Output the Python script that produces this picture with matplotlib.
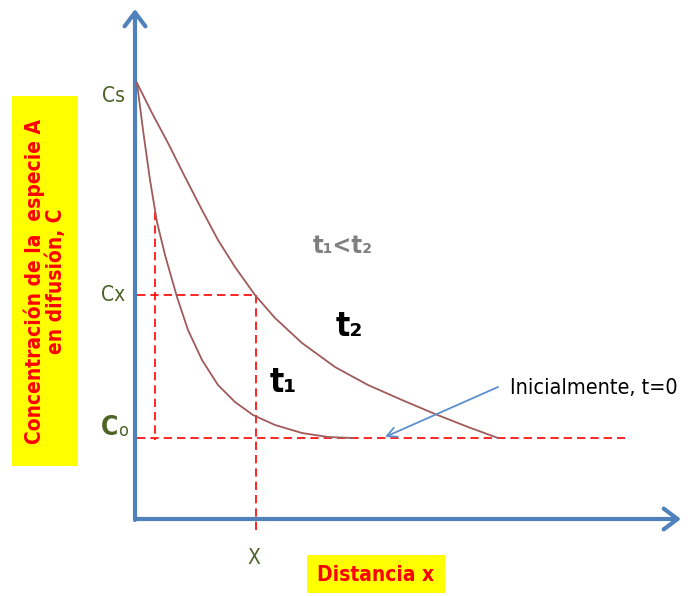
import numpy as np
import matplotlib
matplotlib.use("Agg")
import matplotlib.pyplot as plt
from matplotlib import font_manager
from matplotlib.patches import FancyArrowPatch, Rectangle

# SCHEMATIC DATA (pixel-like units, y grows downward)

t1_x = [137, 143, 150, 157, 165, 177, 188, 202, 218, 235, 253, 275, 302, 328, 352]
t1_y = [83, 130, 180, 222, 255, 297, 330, 360, 385, 402, 415, 425, 433, 437, 438]

t2_x = [137, 152, 168, 185, 202, 218, 235, 255, 275, 302, 335, 368, 402, 435, 468, 498]
t2_y = [83, 113, 143, 177, 210, 240, 267, 295, 318, 343, 367, 385, 400, 414, 427, 438]

C_s = 83
C_x = 295
C_o = 438
x_pos = 256
x_t1_cross = 155
y_t1_cross = 212
x_end = 625

# look for a condensed / narrow face, otherwise use Liberation Sans
narrow_reg = None
narrow_bold = None
for f in font_manager.fontManager.ttflist:
    low = f.fname.lower()
    if ('narrow' in low or 'condensed' in low) and 'oblique' not in low and 'italic' not in low:
        if f.weight in ('bold', 700) or 'bold' in low:
            if narrow_bold is None:
                narrow_bold = f.fname
        else:
            if narrow_reg is None:
                narrow_reg = f.fname

def fp(size, bold=False):
    path = narrow_bold if bold else narrow_reg
    if path is not None:
        return font_manager.FontProperties(fname=path, size=size)
    return font_manager.FontProperties(family='Liberation Sans', size=size,
                                       weight='bold' if bold else 'normal')

fig = plt.figure(figsize=(6.88, 5.96), dpi=100)
ax = fig.add_axes([0, 0, 1, 1])
ax.set_xlim(0, 688)
ax.set_ylim(596, 0)
ax.axis('off')

axis_blue = '#4f81bd'
curve_col = '#a05a5a'
olive = '#4f6228'

# axes with arrows
ax.add_patch(FancyArrowPatch((135, 520), (135, 9), arrowstyle='->,head_length=4,head_width=3',
                             color=axis_blue, lw=3, mutation_scale=2.5, shrinkA=0, shrinkB=0))
ax.add_patch(FancyArrowPatch((135, 519), (681, 519), arrowstyle='->,head_length=4,head_width=3',
                             color=axis_blue, lw=3, mutation_scale=2.5, shrinkA=0, shrinkB=0))

# dashed guides
dash = dict(color='red', lw=1.2, linestyle=(0, (5, 3)))
ax.plot([137, x_end], [C_o, C_o], **dash)
ax.plot([137, x_pos], [C_x, C_x], **dash)
ax.plot([x_pos, x_pos], [C_x, 530], **dash)
ax.plot([x_t1_cross, x_t1_cross], [y_t1_cross, C_o + 2], **dash)

# concentration profiles
ax.plot(t1_x, t1_y, color=curve_col, lw=1.3, solid_joinstyle='round')
ax.plot(t2_x, t2_y, color=curve_col, lw=1.3, solid_joinstyle='round')

# arrow for initial condition
ax.annotate('', xy=(385, 437), xytext=(498, 387),
            arrowprops=dict(arrowstyle='->,head_length=0.7,head_width=0.35', color='#5b8fd0', lw=1.3,
                            shrinkA=0, shrinkB=0))
ax.text(510, 388, 'Inicialmente, t=0', fontproperties=fp(15.5), va='center', ha='left', color='black')

# labels on axes
ax.text(125, 96, 'Cs', fontproperties=fp(15), color=olive, ha='right', va='center')
ax.text(125, 295, 'Cx', fontproperties=fp(15), color=olive, ha='right', va='center')
ax.text(118, 428, 'C', fontproperties=fp(19, bold=True), color=olive, ha='right', va='center')
ax.text(118, 431, 'o', fontproperties=fp(13), color=olive, ha='left', va='center')
ax.text(x_pos - 2, 558, 'X', fontproperties=fp(15), color=olive, ha='center', va='center')

# curve labels
ax.text(313, 246, 't\u2081<t\u2082', fontproperties=fp(18, bold=True), color='#808080',
        va='center', ha='left')
ax.text(336, 327, 't\u2082', fontproperties=fp(24, bold=True), color='black', va='center', ha='left')
ax.text(270, 383, 't\u2081', fontproperties=fp(24, bold=True), color='black', va='center', ha='left')

# yellow boxes
ax.add_patch(Rectangle((12, 96), 66, 370, facecolor='yellow', edgecolor='none'))
ax.text(45, 281, 'Concentración de la  especie A\nen difusión, C', rotation=90, color='red',
        fontproperties=fp(15, bold=True), ha='center', va='center', linespacing=1.05)
ax.add_patch(Rectangle((307, 555), 138, 38, facecolor='yellow', edgecolor='none'))
ax.text(376, 575, 'Distancia x', color='red', fontproperties=fp(15, bold=True),
        ha='center', va='center')

fig.savefig('out.png', dpi=100)
